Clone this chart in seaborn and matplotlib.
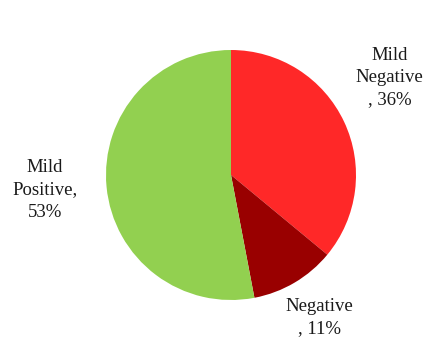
import matplotlib
matplotlib.use("Agg")
import matplotlib.pyplot as plt
import seaborn as sns

categories = ["Mild Negative", "Negative", "Mild Positive"]
values = [36, 11, 53]
label_texts = ["Mild\nNegative\n, 36%", "Negative\n, 11%", "Mild\nPositive,\n53%"]
colors = ["#FF2828", "#990000", "#92D050"]

sns.set_theme(style="white")
plt.rcParams['font.family'] = ['Liberation Serif', 'DejaVu Serif']

fig = plt.figure(figsize=(4.24, 3.38), dpi=100)
w = 250 / 424
h = 250 / 338
cx = 231 / 424
cy = 1 - 175 / 338
ax = fig.add_axes([cx - w / 2, cy - h / 2, w, h])
ax.pie(values, colors=colors, startangle=90, counterclock=False,
       wedgeprops=dict(linewidth=0))
ax.set_xlim(-1, 1)
ax.set_ylim(-1, 1)
ax.set_aspect('equal')
ax.axis('off')

positions = [(1.27, 0.78), (0.71, -1.14), (-1.49, -0.12)]
for txt, (x, y) in zip(label_texts, positions):
    ax.text(x, y, txt, ha='center', va='center', fontsize=13.5,
            color='#1a1a1a', linespacing=1.42, clip_on=False)

fig.savefig("out.png", dpi=100, facecolor='white')
